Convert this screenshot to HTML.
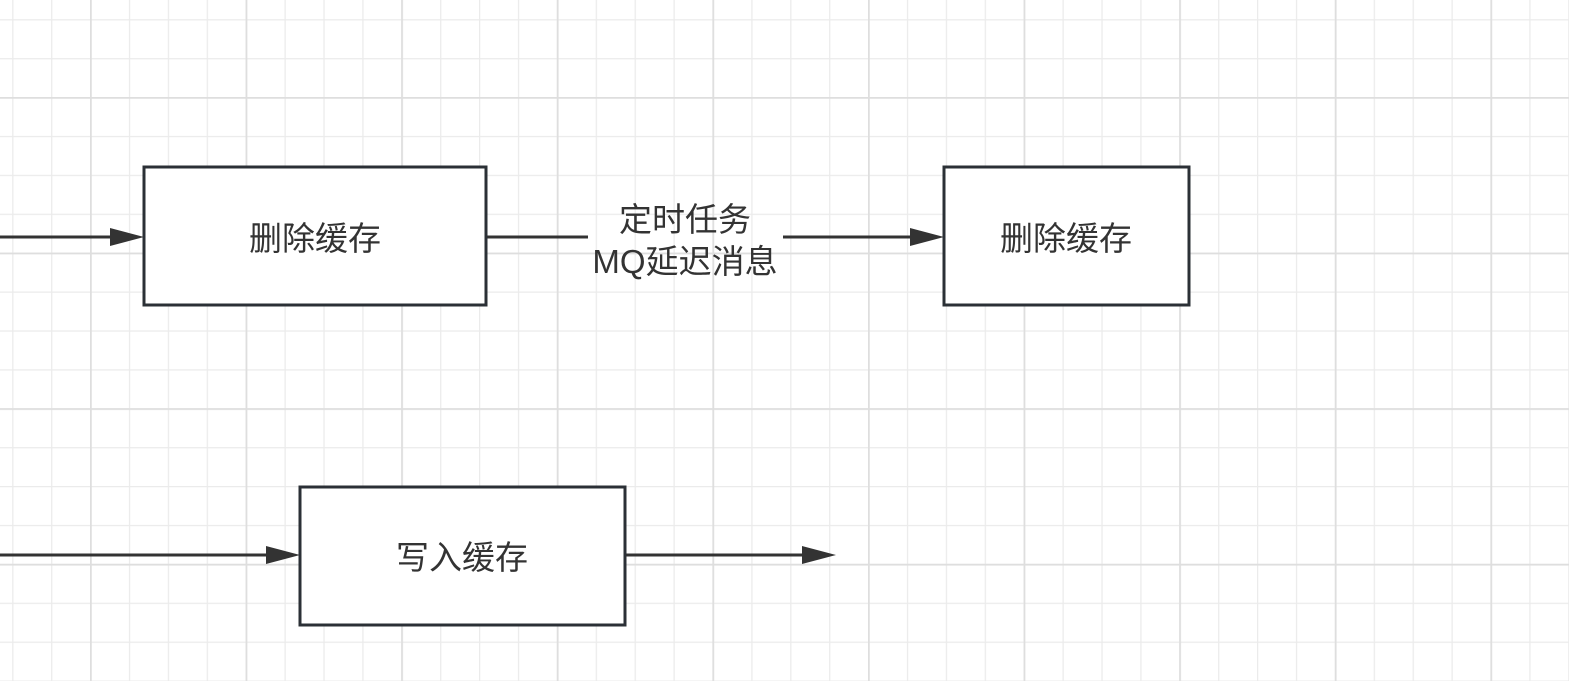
<!DOCTYPE html>
<html><head><meta charset="utf-8"><style>
html,body{margin:0;padding:0;background:#fff;}
svg{display:block}
text{font-family:"Liberation Sans","Noto Sans CJK SC",sans-serif;fill:#333;font-size:33px}
</style></head><body>
<svg width="1569" height="681" viewBox="0 0 1569 681" xmlns="http://www.w3.org/2000/svg">
<defs>
<pattern id="minor" x="12.2" y="19.2" width="38.9" height="38.9" patternUnits="userSpaceOnUse">
<path d="M0 0H38.9M0 0V38.9" stroke="#ebebeb" stroke-width="2.5" fill="none"/>
</pattern>
<pattern id="major" x="90" y="97" width="155.6" height="155.6" patternUnits="userSpaceOnUse">
<path d="M0 0H155.6M0 0V155.6" stroke="#dedede" stroke-width="3.5" fill="none"/>
</pattern>
</defs>
<rect width="1569" height="681" fill="#fff"/>
<rect width="1569" height="681" fill="url(#minor)"/>
<rect width="1569" height="681" fill="url(#major)"/>
<g stroke="#333" stroke-width="3" fill="none">
<line x1="0" y1="237" x2="112" y2="237"/>
<line x1="486" y1="237" x2="588" y2="237"/>
<line x1="783" y1="237" x2="912" y2="237"/>
<line x1="0" y1="555" x2="268" y2="555"/>
<line x1="625" y1="555" x2="804" y2="555"/>
</g>
<g fill="#333">
<path d="M110 228L144 237L110 246Z"/>
<path d="M910 228L944 237L910 246Z"/>
<path d="M266 546L300 555L266 564Z"/>
<path d="M802 546L836 555L802 564Z"/>
</g>
<g stroke="#2b3036" stroke-width="3" fill="#fff">
<rect x="144" y="167" width="342" height="138"/>
<rect x="944" y="167" width="245" height="138"/>
<rect x="300" y="487" width="325" height="138"/>
</g>
<text x="315" y="250" text-anchor="middle">删除缓存</text>
<text x="1066" y="250" text-anchor="middle">删除缓存</text>
<text x="462" y="569" text-anchor="middle">写入缓存</text>
<text x="685" y="231" text-anchor="middle">定时任务</text>
<text x="685" y="273" text-anchor="middle">MQ延迟消息</text>
</svg>
</body></html>
